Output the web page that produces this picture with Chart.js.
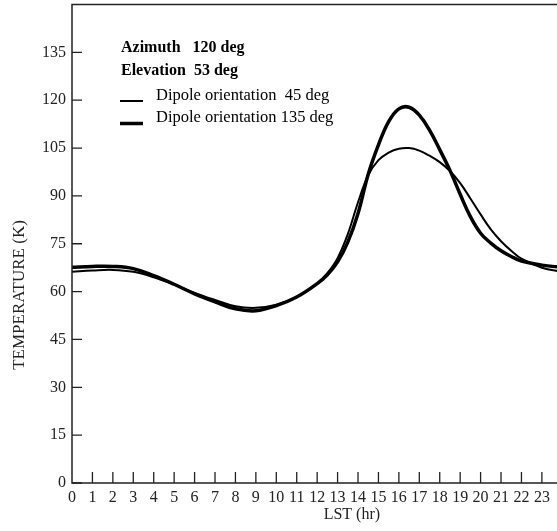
<!DOCTYPE html>
<html>
<head>
    <title>Temperature vs LST</title>
    <script src="https://cdn.jsdelivr.net/npm/chart.js"></script>
    <style>
        html, body { margin: 0; padding: 0; background: #ffffff; overflow: hidden; }
    </style>
</head>
<body>
    <canvas id="mainChart" width="557" height="531"></canvas>
    <script>
        // LST (hr) sample points
        const lstHours = [0, 1, 2, 3, 4, 5, 6, 7, 8, 9, 10, 11, 12, 12.5, 13, 13.5, 14, 14.5, 15, 15.5,
            16, 16.5, 17, 17.5, 18, 18.5, 19, 19.5, 20, 20.5, 21, 21.5, 22, 23, 24];

        // Temperature (K), dipole orientation 45 deg (thin line)
        const temp45 = [66.2, 66.6, 66.8, 66.2, 64.5, 62.2, 59.6, 57.4, 55.4, 54.9, 55.9, 58.3, 62.5, 65.8,
            70.5, 78.0, 88.0, 96.5, 101.2, 103.6, 104.8, 105.0, 104.2, 102.6, 100.6, 97.8, 94.0, 89.2,
            84.2, 79.5, 75.8, 72.8, 70.3, 67.5, 66.2];

        // Temperature (K), dipole orientation 135 deg (thick line)
        const temp135 = [67.6, 67.9, 67.9, 67.2, 65.0, 62.3, 59.3, 56.8, 54.6, 54.0, 55.6, 58.3, 62.5, 65.3,
            69.3, 75.5, 84.5, 96.8, 106.0, 113.3, 117.3, 117.8, 115.3, 110.6, 104.5, 98.0, 90.5, 83.5,
            78.3, 75.2, 72.8, 71.0, 69.6, 68.3, 67.6];

        const seriesLabels = ['Dipole orientation  45 deg', 'Dipole orientation 135 deg'];
        const infoLines = ['Azimuth   120 deg', 'Elevation  53 deg'];

        const xTicks = [0, 1, 2, 3, 4, 5, 6, 7, 8, 9, 10, 11, 12, 13, 14, 15, 16, 17, 18, 19, 20, 21, 22, 23];
        const yTicks = [0, 15, 30, 45, 60, 75, 90, 105, 120, 135];

        const serif = '"Liberation Serif", "DejaVu Serif", serif';
        const ink = '#222222';

        const toPoints = vals => vals.map((v, i) => ({ x: lstHours[i], y: v }));

        // axes, inward tick marks, annotation block, legend and axis titles
        const framePlugin = {
            id: 'frame',
            afterDraw(chart) {
                const ctx = chart.ctx;
                const area = chart.chartArea;
                const xs = chart.scales.x;
                const ys = chart.scales.y;
                ctx.save();
                ctx.strokeStyle = ink;
                ctx.lineWidth = 1.5;
                ctx.beginPath();
                ctx.moveTo(area.right, area.top);
                ctx.lineTo(area.left, area.top);
                ctx.lineTo(area.left, area.bottom);
                ctx.lineTo(area.right, area.bottom);
                ctx.stroke();

                ctx.lineWidth = 1.3;
                ctx.beginPath();
                yTicks.forEach(v => {
                    const py = ys.getPixelForValue(v);
                    ctx.moveTo(area.left, py);
                    ctx.lineTo(area.left + 10, py);
                });
                xTicks.forEach(v => {
                    if (v === 0) return;
                    const px = xs.getPixelForValue(v);
                    ctx.moveTo(px, area.bottom);
                    ctx.lineTo(px, area.bottom - 11);
                });
                ctx.stroke();

                // info text
                ctx.fillStyle = '#000000';
                ctx.textBaseline = 'middle';
                ctx.textAlign = 'left';
                ctx.font = 'bold 16px ' + serif;
                ctx.fillText(infoLines[0], 121, 48);
                ctx.fillText(infoLines[1], 121, 71);

                // legend
                ctx.font = '16.5px ' + serif;
                const rows = [{ ty: 96, ly: 101 }, { ty: 118, ly: 123.5 }];
                chart.data.datasets.forEach((ds, i) => {
                    ctx.strokeStyle = ds.borderColor;
                    ctx.lineWidth = ds.borderWidth;
                    ctx.beginPath();
                    ctx.moveTo(120, rows[i].ly);
                    ctx.lineTo(143, rows[i].ly);
                    ctx.stroke();
                    ctx.fillText(ds.label, 156, rows[i].ty);
                });

                // axis titles
                ctx.fillStyle = ink;
                ctx.textAlign = 'center';
                ctx.font = '16px ' + serif;
                ctx.fillText('LST (hr)', xs.getPixelForValue(13.7), 515);
                ctx.font = '17px ' + serif;
                ctx.translate(20, 295);
                ctx.rotate(-Math.PI / 2);
                ctx.fillText('TEMPERATURE (K)', 0, 0);
                ctx.restore();
            }
        };

        new Chart(document.getElementById('mainChart'), {
            type: 'line',
            data: {
                datasets: [
                    {
                        label: seriesLabels[0],
                        data: toPoints(temp45),
                        borderColor: '#000000',
                        borderWidth: 2,
                        pointRadius: 0,
                        fill: false,
                        tension: 0.4
                    },
                    {
                        label: seriesLabels[1],
                        data: toPoints(temp135),
                        borderColor: '#000000',
                        borderWidth: 3.5,
                        pointRadius: 0,
                        fill: false,
                        tension: 0.4
                    }
                ]
            },
            options: {
                responsive: false,
                maintainAspectRatio: false,
                animation: false,
                layout: { padding: { top: 4.5, right: 0, bottom: 0, left: 0 } },
                scales: {
                    x: {
                        type: 'linear',
                        min: 0,
                        max: 23.74,
                        grid: { display: false, drawTicks: false },
                        border: { display: false },
                        afterBuildTicks: s => { s.ticks = xTicks.map(v => ({ value: v })); },
                        afterFit: s => { s.height = 48; s.paddingLeft = 0; s.paddingRight = 0; },
                        ticks: {
                            maxRotation: 0,
                            autoSkip: false,
                            padding: 5,
                            color: ink,
                            font: { family: serif, size: 16 }
                        }
                    },
                    y: {
                        type: 'linear',
                        min: 0,
                        max: 150,
                        grid: { display: false, drawTicks: false },
                        border: { display: false },
                        afterBuildTicks: s => { s.ticks = yTicks.map(v => ({ value: v })); },
                        afterFit: s => { s.width = 72; s.paddingTop = 0; s.paddingBottom = 0; },
                        ticks: {
                            padding: 6,
                            color: ink,
                            font: { family: serif, size: 16 }
                        }
                    }
                },
                plugins: {
                    legend: { display: false },
                    tooltip: { enabled: false }
                }
            },
            plugins: [framePlugin]
        });
    </script>
</body>
</html>
